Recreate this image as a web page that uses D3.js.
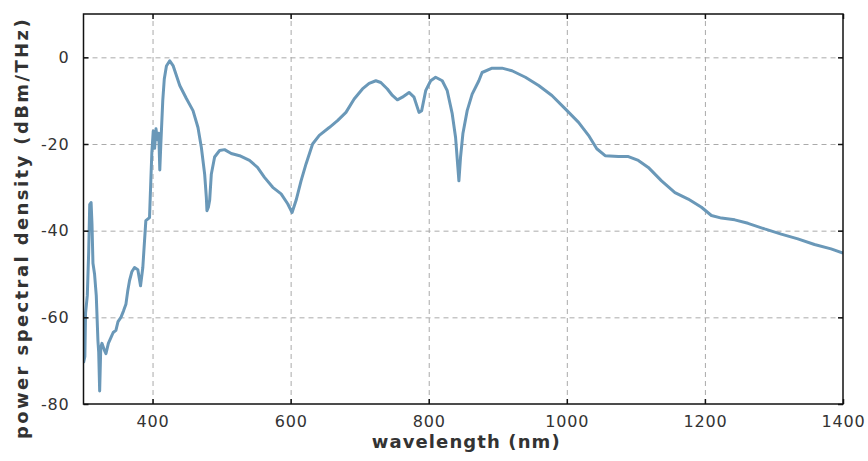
<!DOCTYPE html>
<html>
<head>
<meta charset="utf-8">
<script src="https://cdn.jsdelivr.net/npm/d3@7"></script>
<style>
  body { margin: 0; background: #fff; }
  text { font-family: "DejaVu Sans", Verdana, sans-serif; fill: #333; }
</style>
</head>
<body>
<svg id="chart" width="868" height="461"></svg>
<script>
// spectrum (wavelength nm, dBm/THz)
var wavelength = [300, 302, 303, 305.5, 307.5, 309, 311, 312.3, 313.7, 316, 318.5, 320.9, 322, 323.4, 325, 326.7,
  330, 332.5, 336, 339.7, 343, 346.9, 350, 354.2, 358, 361.4, 364, 366.7, 370, 373.9, 378.7, 382.6, 385.9, 388.4,
  390.3, 395.6, 397.5, 399, 401, 403, 405, 407, 409, 410.5, 412, 414.8, 417, 420.1, 424.9, 429.7, 439.4, 449,
  458.6, 465.8, 470.7, 475.5, 477.9, 478.8, 481, 482.7, 485.1, 489.9, 497.1, 504.3, 514, 526, 540.4, 552, 562.1,
  574.1, 586.2, 595.7, 602.1, 607.9, 615.1, 622.3, 631.8, 641.5, 655.9, 667.9, 680.1, 692, 704, 713.7, 723.4,
  730.6, 740.1, 747.4, 754.6, 761.8, 771.5, 778.7, 785.9, 789.8, 795.6, 802.8, 810, 819.6, 826.8, 834, 838.9,
  842.2, 843.7, 846.1, 849.5, 855.7, 862.9, 872.6, 877.3, 891.8, 906.2, 920.6, 940, 959.2, 978.4, 997.8, 1017,
  1031.4, 1043.4, 1055.5, 1074.7, 1089.2, 1103.6, 1118, 1137.2, 1156.6, 1175.8, 1195, 1209.4, 1223.9, 1243.2,
  1262.4, 1286.5, 1310.5, 1334.6, 1358.7, 1382.7, 1400];
var psd = [-70.5, -69, -59, -55, -45, -34, -33.5, -38.5, -47.5, -50, -55, -65.4, -68, -77, -67, -66,
  -67.5, -68.4, -66, -64.7, -63.5, -63, -61, -60, -58.5, -57, -54, -51.5, -49.5, -48.5, -49, -52.7, -48.5, -42.3,
  -37.7, -37, -28.5, -22, -17, -21, -16.5, -19, -17.5, -26, -20, -10, -5, -2, -0.8, -1.9, -6.5, -9.5,
  -12.3, -16.2, -20.8, -27, -32.3, -35.4, -34.5, -33, -27, -23, -21.5, -21.3, -22.2, -22.7, -23.8, -25.4, -27.7,
  -30, -31.5, -33.8, -35.8, -33, -28.5, -24.6, -20, -18, -16.2, -14.6, -12.7, -9.6, -7.3, -6, -5.4,
  -5.8, -7.3, -8.8, -9.8, -9.2, -8.1, -9.2, -12.7, -12.3, -7.7, -5.4, -4.6, -5.4, -7.7, -13, -18.5,
  -25.4, -28.5, -23, -17.6, -12.3, -8.5, -5.4, -3.5, -2.5, -2.5, -3.1, -4.6, -6.5, -8.8, -11.9, -15,
  -18, -21.1, -22.7, -22.9, -22.9, -23.8, -25.4, -28.5, -31.2, -32.7, -34.6, -36.5, -37.1, -37.5,
  -38.3, -39.6, -40.8, -41.9, -43.2, -44.2, -45.2];

var xTicks = [400, 600, 800, 1000, 1200, 1400];
var yTicks = [-80, -60, -40, -20, 0];
var xGrid = [400, 600, 800, 1000, 1200];
var yGrid = [-60, -40, -20, 0];

var margin = {left: 83.5, top: 14, right: 25, bottom: 57};
var svg = d3.select("#chart");
var width = 868 - margin.left - margin.right;
var height = 461 - margin.top - margin.bottom;

var x_scale = d3.scaleLinear().domain([300, 1400]).range([0, width]);
var y_scale = d3.scaleLinear().domain([-80, 10]).range([height, 0]);
var plain = function(d) { return String(d); };  // "1200", "-20" (no comma, ascii minus)

var g = svg.append("g").attr("transform", "translate(" + margin.left + "," + margin.top + ")");

// dashed grid
g.append("g")
    .attr("transform", "translate(0," + height + ")")
    .call(d3.axisBottom(x_scale).tickValues(xGrid).tickSize(-height).tickFormat(""))
    .call(function(s) {
        s.select(".domain").remove();
        s.selectAll("line").attr("stroke", "#aaa").attr("stroke-dasharray", "5,4");
    });
g.append("g")
    .call(d3.axisLeft(y_scale).tickValues(yGrid).tickSize(-width).tickFormat(""))
    .call(function(s) {
        s.select(".domain").remove();
        s.selectAll("line").attr("stroke", "#aaa").attr("stroke-dasharray", "5,4");
    });

// the spectrum
svg.append("clipPath").attr("id", "clip")
  .append("rect").attr("width", width).attr("height", height);

var line = d3.line()
    .x(function(d, i) { return x_scale(wavelength[i]); })
    .y(function(d) { return y_scale(d); });

g.append("path")
    .datum(psd)
    .attr("clip-path", "url(#clip)")
    .attr("d", line)
    .attr("fill", "none")
    .attr("stroke", "#6a98b8")
    .attr("stroke-width", 3)
    .attr("stroke-linejoin", "round");

// axes, ticks pointing inward
function styleAxis(s) {
    s.select(".domain").remove();
    s.selectAll("line").attr("stroke", "#111").attr("stroke-width", 1.5);
    s.selectAll("text").attr("fill", "#333").style("font-size", "16px")
        .style("letter-spacing", "0.8px").style("font-family", "DejaVu Sans, sans-serif");
}
g.append("g")
    .attr("transform", "translate(0," + height + ")")
    .call(d3.axisBottom(x_scale).tickValues(xTicks).tickFormat(plain).tickSizeInner(-5).tickSizeOuter(0).tickPadding(12))
    .call(styleAxis);
g.append("g")
    .call(d3.axisTop(x_scale).tickValues(xTicks).tickSizeInner(-5).tickSizeOuter(0).tickFormat(""))
    .call(styleAxis);
g.append("g")
    .call(d3.axisLeft(y_scale).tickValues(yTicks).tickFormat(plain).tickSizeInner(-5).tickSizeOuter(0).tickPadding(14))
    .call(styleAxis);
g.append("g")
    .attr("transform", "translate(" + width + ",0)")
    .call(d3.axisRight(y_scale).tickValues(yTicks).tickSizeInner(-5).tickSizeOuter(0).tickFormat(""))
    .call(styleAxis);

// frame
g.append("rect")
    .attr("width", width).attr("height", height)
    .attr("fill", "none").attr("stroke", "#111").attr("stroke-width", 1.5);

// axis titles
svg.append("text")
    .attr("x", margin.left + width / 2 + 3)
    .attr("y", 448)
    .attr("text-anchor", "middle")
    .style("font-size", "18px").style("font-weight", "bold").style("letter-spacing", "1.1px")
    .text("wavelength (nm)");

svg.append("text")
    .attr("transform", "translate(28," + (228) + ") rotate(-90)")
    .attr("text-anchor", "middle")
    .style("font-size", "18px").style("font-weight", "bold").style("letter-spacing", "2.4px")
    .text("power spectral density (dBm/THz)");
</script>
</body>
</html>
